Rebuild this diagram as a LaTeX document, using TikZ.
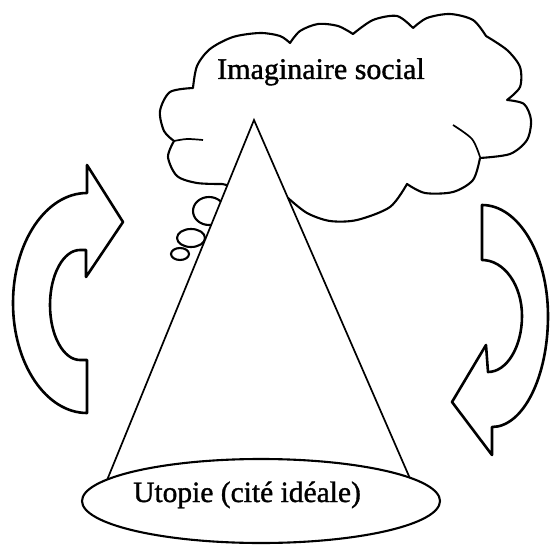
\documentclass[tikz,border=0pt]{standalone}
\usepackage{fontspec}
\setmainfont{Liberation Serif}
\newfontfamily\heavyserif[FakeBold=1.2]{Liberation Serif}
\usetikzlibrary{shapes.geometric}
\begin{document}
\begin{tikzpicture}[x=1pt,y=-1pt,
  outline/.style={draw=black, line width=2.1pt, fill=white, line join=round},
  thinline/.style={draw=black, line width=1.7pt},
  bigarrow/.style={draw=black, line width=2.6pt, fill=white, line join=round},
  lbl/.style={inner sep=0pt, anchor=base}]
\useasboundingbox (0,0) rectangle (551,545);

% cloud
\path[outline] (193,88)
  -- plot[smooth] coordinates {(193,88) (197,66) (210,49) (233,37) (260,33) (280,36) (290,43)}
  -- plot[smooth] coordinates {(290,43) (300,31) (318,24) (338,26) (353,34)}
  -- plot[smooth] coordinates {(353,34) (373,20) (397,16) (413,28)}
  -- plot[smooth] coordinates {(413,28) (427,18) (450,14) (473,20) (486,36)}
  -- plot[smooth] coordinates {(486,36) (507,50) (520,67) (520,87) (507,100)}
  -- plot[smooth] coordinates {(507,100) (524,104) (531,120) (527,140) (510,154) (480,158)}
  -- plot[smooth] coordinates {(480,158) (473,180) (453,192) (425,193) (407,184)}
  -- plot[smooth] coordinates {(407,184) (390,207) (357,220) (330,221) (307,213) (288,198)}
  -- (222,184)
  -- plot[smooth] coordinates {(222,184) (197,183) (177,176) (168,157) (174,141)}
  -- plot[smooth] coordinates {(174,141) (164,131) (160,111) (170,92) (193,88)}
  -- cycle;
\draw[thinline] plot[smooth] coordinates {(453,125) (472,139) (480,157)};
\draw[thinline] plot[smooth] coordinates {(174,141) (187,139) (203,140)};

% callout bubbles
\draw[outline] (209,211) ellipse[x radius=16, y radius=14];
\draw[outline] (191,238) ellipse[x radius=14, y radius=9];
\draw[outline] (180,254) ellipse[x radius=9, y radius=6];

\node[lbl, font=\heavyserif\fontsize{30}{34}\selectfont] (cloudtext) at (321,79) {Imaginaire social};

% triangle
\coordinate (apex) at (254,120);
\coordinate (bl) at (103,490);
\coordinate (br) at (415,490);
\fill[white] (apex) -- (bl) -- (br) -- cycle;
\draw[thinline] (bl) -- (apex) -- (br);

% base ellipse
\node[draw=black, line width=2.1pt, fill=white, ellipse, minimum width=358pt, minimum height=84pt, inner sep=0pt] (base) at (261,501) {};
\node[lbl, font=\heavyserif\fontsize{29.5}{34}\selectfont] (basetext) at (247,502) {Utopie (cité idéale)};

% left curved arrow
\path[bigarrow] (87,165) -- (123,222) -- (86,277) -- (86,250) -- (80,250)
  .. controls (63.4,250) and (50,274.6) .. (50,305)
  .. controls (50,335.4) and (63.4,360) .. (80,360)
  -- (87,360) -- (87,413)
  .. controls (46.1,413) and (13,363.8) .. (13,303)
  .. controls (13,242.2) and (46.1,193) .. (87,193)
  -- cycle;

% right curved arrow
\path[bigarrow] (482,205)
  .. controls (518.5,205) and (548,254.7) .. (548,316)
  .. controls (548,377.3) and (523,427) .. (492,427)
  -- (492,455) -- (452,402) -- (486,345) -- (488,372)
  .. controls (506.8,372) and (522,346.9) .. (522,316)
  .. controls (522,285.1) and (504.1,260) .. (482,260)
  -- cycle;
\end{tikzpicture}
\end{document}
